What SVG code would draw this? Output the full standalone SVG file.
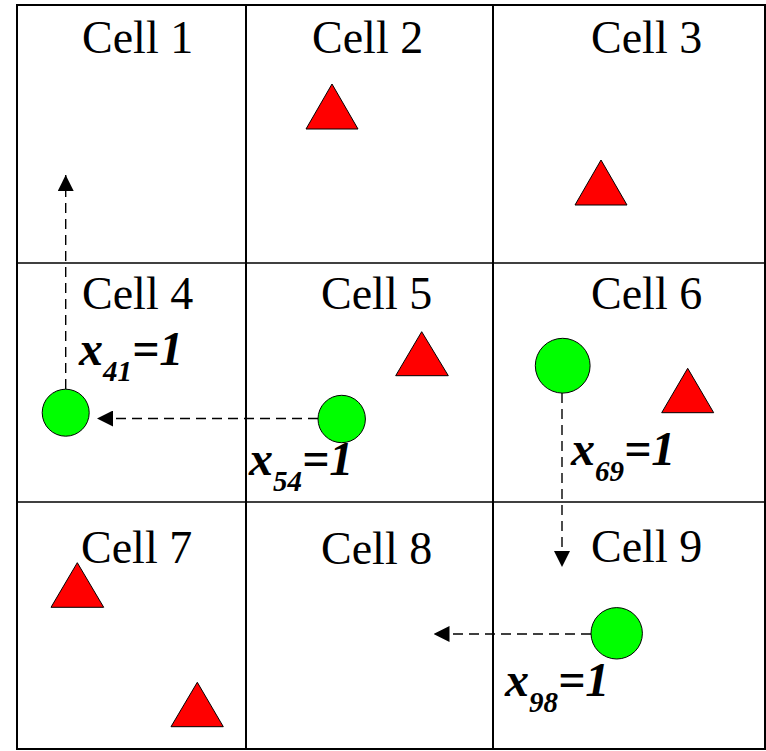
<svg xmlns="http://www.w3.org/2000/svg" width="766" height="751" viewBox="0 0 766 751">
<style>
.grid{fill:none;stroke:#000;stroke-width:2}
.hl{stroke:#000;stroke-width:1.5}
.vl{stroke:#000;stroke-width:2}
.cell{font-size:46px;fill:#000}
.lab{font-size:48px;font-weight:bold;font-style:italic;fill:#000}
.sub{font-size:29px}
.tri{fill:#ff0000;stroke:#000;stroke-width:1}
.dot{fill:#00ff00;stroke:#000;stroke-width:1}
.conn{fill:none;stroke:#000;stroke-width:1.4;stroke-dasharray:10 6}
</style>
<defs>
<marker id="ah" viewBox="0 0 16 16" refX="16" refY="8" markerWidth="16" markerHeight="16" markerUnits="userSpaceOnUse" orient="auto">
<path d="M0,0 L16,8 L0,16 z" fill="#000"/>
</marker>
</defs>
<rect width="766" height="751" fill="#fff"/>
<g id="grid">
<rect class="grid" x="17" y="5" width="748" height="744"/>
<line class="vl" x1="246" y1="5" x2="246" y2="749"/>
<line class="vl" x1="493" y1="5" x2="493" y2="749"/>
<line class="hl" x1="17" y1="263" x2="765" y2="263"/>
<line class="hl" x1="17" y1="502" x2="765" y2="502"/>
</g>
<g font-family="Liberation Serif, serif">
<g id="cell1"><text class="cell" x="82" y="53">Cell 1</text></g>
<g id="cell2"><text class="cell" x="312" y="53">Cell 2</text>
<polygon class="tri" points="332,84 306,129 358,129"/></g>
<g id="cell3"><text class="cell" x="591" y="53">Cell 3</text>
<polygon class="tri" points="601,160 575,205 627,205"/></g>
<g id="cell4"><text class="cell" x="82" y="309">Cell 4</text>
<circle class="dot" cx="65.7" cy="412.7" r="23.5"/></g>
<g id="cell5"><text class="cell" x="321" y="309">Cell 5</text>
<polygon class="tri" points="421.7,331.7 395.7,375.7 448.3,375.7"/>
<circle class="dot" cx="341.7" cy="419" r="23.7"/></g>
<g id="cell6"><text class="cell" x="591" y="309">Cell 6</text>
<polygon class="tri" points="687.7,368.3 661.7,412.7 713.7,412.7"/>
<circle class="dot" cx="562.7" cy="365.7" r="27.4"/></g>
<g id="cell7"><text class="cell" x="81" y="563">Cell 7</text>
<polygon class="tri" points="77.3,562.7 51,607.3 103.7,607.3"/>
<polygon class="tri" points="197.3,682.3 171,726.7 223.3,726.7"/></g>
<g id="cell8"><text class="cell" x="321" y="564">Cell 8</text></g>
<g id="cell9"><text class="cell" x="591" y="562">Cell 9</text>
<circle class="dot" cx="616.7" cy="633.3" r="25.7"/></g>
</g>
<g id="connectors">
<path class="conn" d="M65.7,389 V175" marker-end="url(#ah)"/>
<path class="conn" d="M318,418.5 H97" marker-end="url(#ah)"/>
<path class="conn" d="M562,393 V567" marker-end="url(#ah)"/>
<path class="conn" d="M591,634 H433.5" marker-end="url(#ah)"/>
</g>
<g id="labels" font-family="Liberation Serif, serif">
<text class="lab" x="79" y="365">x<tspan class="sub" dy="16">41</tspan><tspan dy="-16">=1</tspan></text>
<text class="lab" x="249" y="475">x<tspan class="sub" dy="16">54</tspan><tspan dy="-16">=1</tspan></text>
<text class="lab" x="571" y="465">x<tspan class="sub" dy="16">69</tspan><tspan dy="-16">=1</tspan></text>
<text class="lab" x="505" y="696">x<tspan class="sub" dy="16">98</tspan><tspan dy="-16">=1</tspan></text>
</g>
</svg>
